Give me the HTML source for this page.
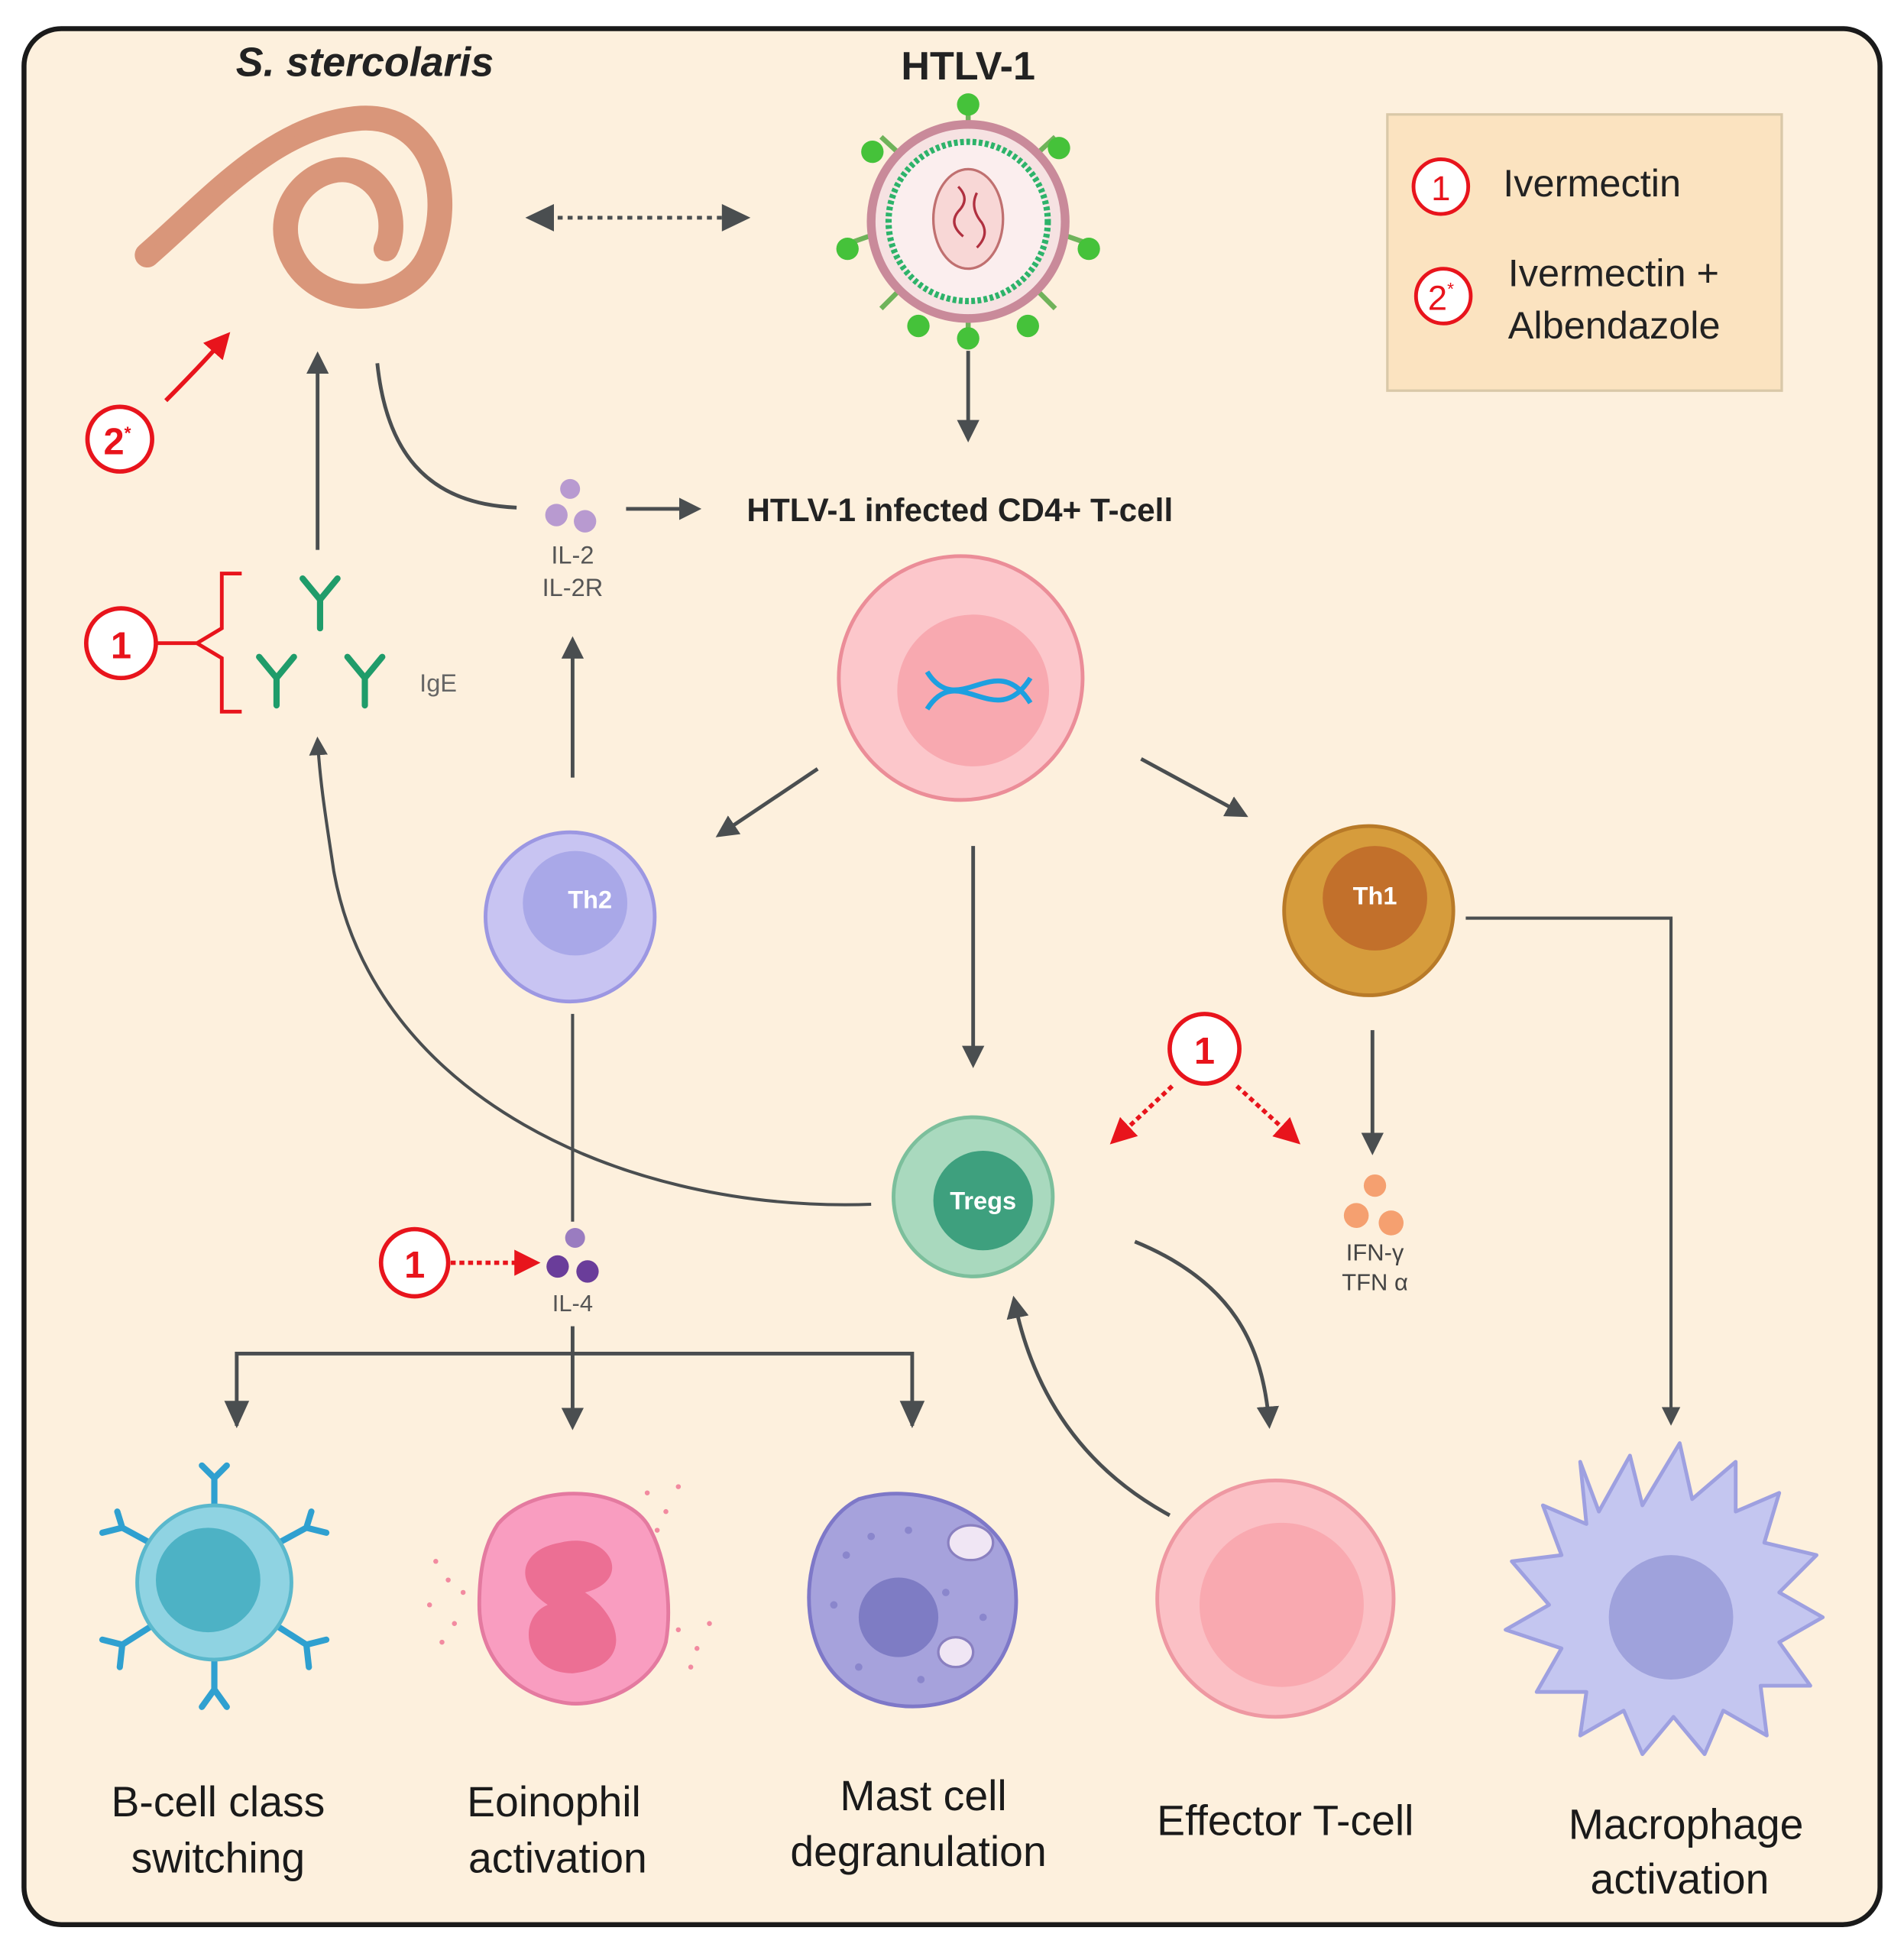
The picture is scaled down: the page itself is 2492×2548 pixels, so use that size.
<!DOCTYPE html>
<html><head><meta charset="utf-8"><style>
html,body{margin:0;padding:0;background:#fff}
svg{display:block}
text{font-family:"Liberation Sans",sans-serif}
</style></head><body>
<svg width="2492" height="2548" viewBox="0 0 1530 1565" xmlns="http://www.w3.org/2000/svg">
<defs>
<marker id="ah" viewBox="0 0 10 10" refX="8" refY="5" markerWidth="6" markerHeight="6" orient="auto"><path d="M0,0 L10,5 L0,10 z" fill="#4a4e50"/></marker>
<marker id="ar" viewBox="0 0 10 10" refX="8" refY="5" markerWidth="6" markerHeight="6" orient="auto"><path d="M0,0 L10,5 L0,10 z" fill="#e8141c"/></marker>
</defs>
<rect x="0" y="0" width="1530" height="1565" fill="#fff"/>
<rect x="19" y="23" width="1492" height="1524" rx="30" fill="#fdf0dd" stroke="#1a1a1a" stroke-width="4"/>

<!-- titles -->
<text x="293" y="61" font-size="33" font-weight="bold" font-style="italic" text-anchor="middle" fill="#222">S. stercolaris</text>
<text x="778" y="64" font-size="32" font-weight="bold" text-anchor="middle" fill="#222">HTLV-1</text>

<!-- worm -->
<path d="M118,205 C170,160 220,100 290,95 C350,92 365,160 345,205 C325,250 250,250 232,200 C218,160 260,125 290,140 C315,152 318,185 310,200" fill="none" stroke="#d9967a" stroke-width="20" stroke-linecap="round"/>
<path d="M118,205 C160,170 200,130 240,110" fill="none" stroke="#d9967a" stroke-width="4"/>

<!-- dashed double arrow -->
<line x1="440" y1="175" x2="585" y2="175" stroke="#4a4e50" stroke-width="3" stroke-dasharray="4,4"/>
<path d="M422,175 L445,164 L445,186 z" fill="#4a4e50"/>
<path d="M603,175 L580,164 L580,186 z" fill="#4a4e50"/>

<!-- virus -->
<g>
<g stroke="#6fb35a" stroke-width="4">
<line x1="778" y1="98" x2="778" y2="85"/><line x1="778" y1="258" x2="778" y2="271"/>
<line x1="835" y1="122" x2="848" y2="110"/><line x1="721" y1="122" x2="708" y2="110"/>
<line x1="835" y1="235" x2="848" y2="248"/><line x1="721" y1="235" x2="708" y2="248"/>
<line x1="858" y1="190" x2="875" y2="196"/><line x1="698" y1="190" x2="681" y2="196"/>
</g>
<g fill="#45c23a">
<circle cx="778" cy="84" r="9"/><circle cx="778" cy="272" r="9"/>
<circle cx="851" cy="119" r="9"/><circle cx="701" cy="122" r="9"/>
<circle cx="826" cy="262" r="9"/><circle cx="738" cy="262" r="9"/>
<circle cx="875" cy="200" r="9"/><circle cx="681" cy="200" r="9"/>
</g>
<circle cx="778" cy="178" r="78" fill="#f6e2e2" stroke="#c98a9a" stroke-width="7"/>
<circle cx="778" cy="178" r="64" fill="#fbeeee" stroke="#2db36a" stroke-width="5" stroke-dasharray="3,2"/>
<ellipse cx="778" cy="176" rx="28" ry="40" fill="#f8d7d6" stroke="#c07070" stroke-width="2"/>
<path d="M770,150 q10,10 0,20 q-8,10 4,20 M785,155 q-6,12 4,24 q6,10 -4,20" fill="none" stroke="#b03040" stroke-width="2"/>
</g>
<line x1="778" y1="282" x2="778" y2="352" stroke="#4a4e50" stroke-width="3" marker-end="url(#ah)"/>

<!-- legend -->
<rect x="1115" y="92" width="317" height="222" fill="#fbe3c0" stroke="#d9c8a8" stroke-width="2"/>
<circle cx="1158" cy="150" r="22" fill="#fff" stroke="#e8141c" stroke-width="3"/>
<text x="1158" y="161" font-size="28" text-anchor="middle" fill="#e8141c">1</text>
<text x="1208" y="158" font-size="31" fill="#222">Ivermectin</text>
<circle cx="1160" cy="238" r="22" fill="#fff" stroke="#e8141c" stroke-width="3"/>
<text x="1158" y="249" font-size="28" text-anchor="middle" fill="#e8141c">2<tspan font-size="14" dy="-12">*</tspan></text>
<text x="1212" y="230" font-size="31" fill="#222">Ivermectin +</text>
<text x="1212" y="272" font-size="31" fill="#222">Albendazole</text>

<!-- 2* circle left -->
<circle cx="96" cy="353" r="26" fill="#fff" stroke="#e8141c" stroke-width="3.5"/>
<text x="94" y="365" font-size="30" font-weight="bold" text-anchor="middle" fill="#e8141c">2<tspan font-size="14" dy="-12">*</tspan></text>
<path d="M133,322 Q160,295 182,270" fill="none" stroke="#e8141c" stroke-width="3.5" marker-end="url(#ar)"/>

<!-- up arrow to worm -->
<line x1="255" y1="442" x2="255" y2="286" stroke="#4a4e50" stroke-width="3" marker-end="url(#ah)"/>
<!-- worm curve to IL-2 -->
<path d="M303,292 C310,360 340,405 415,408" fill="none" stroke="#4a4e50" stroke-width="3"/>

<!-- IL-2 -->
<circle cx="458" cy="393" r="8" fill="#b89ad0"/>
<circle cx="447" cy="414" r="9" fill="#b89ad0"/>
<circle cx="470" cy="419" r="9" fill="#b89ad0"/>
<text x="460" y="453" font-size="20" text-anchor="middle" fill="#555">IL-2</text>
<text x="460" y="479" font-size="20" text-anchor="middle" fill="#555">IL-2R</text>
<line x1="503" y1="409" x2="560" y2="409" stroke="#4a4e50" stroke-width="3" marker-end="url(#ah)"/>
<text x="600" y="419" font-size="26" font-weight="bold" fill="#222">HTLV-1 infected CD4+ T-cell</text>

<!-- CD4 cell -->
<circle cx="772" cy="545" r="98" fill="#fcc7cb" stroke="#eb8d98" stroke-width="3"/>
<circle cx="782" cy="555" r="61" fill="#f8a9b0"/>
<path d="M745,540 C770,580 800,520 828,565 M745,570 C770,530 800,590 828,545" fill="none" stroke="#1da0e0" stroke-width="4"/>

<!-- bracket + 1 -->
<circle cx="97" cy="517" r="28" fill="#fff" stroke="#e8141c" stroke-width="3.5"/>
<text x="97" y="529" font-size="30" font-weight="bold" text-anchor="middle" fill="#e8141c">1</text>
<path d="M125,517 L158,517 M194,461 L178,461 L178,505 L158,517 L178,529 L178,572 L194,572" fill="none" stroke="#e8141c" stroke-width="3"/>

<!-- antibodies -->
<g stroke="#1f9c6a" stroke-width="5" fill="none" stroke-linecap="round">
<path d="M257,505 L257,482 L243,465 M257,482 L271,465"/>
<path d="M222,567 L222,545 L208,528 M222,545 L236,528"/>
<path d="M293,567 L293,545 L279,528 M293,545 L307,528"/>
</g>
<text x="352" y="556" font-size="20" text-anchor="middle" fill="#666">IgE</text>

<!-- Tregs curve to IgE -->
<path d="M700,968 C500,975 300,880 268,700 C262,660 257,630 255,595" fill="none" stroke="#4a4e50" stroke-width="2.5" marker-end="url(#ah)"/>
<!-- Th2 up -->
<line x1="460" y1="625" x2="460" y2="515" stroke="#4a4e50" stroke-width="3" marker-end="url(#ah)"/>

<line x1="657" y1="618" x2="578" y2="671" stroke="#4a4e50" stroke-width="3" marker-end="url(#ah)"/>
<line x1="917" y1="610" x2="1000" y2="655" stroke="#4a4e50" stroke-width="3" marker-end="url(#ah)"/>

<!-- Th2 -->
<circle cx="458" cy="737" r="68" fill="#c8c4f2" stroke="#9c97e2" stroke-width="3"/>
<circle cx="462" cy="726" r="42" fill="#a9a8e8"/>
<text x="474" y="730" font-size="20" font-weight="bold" text-anchor="middle" fill="#fff">Th2</text>
<line x1="460" y1="815" x2="460" y2="982" stroke="#4a4e50" stroke-width="2.5"/>

<!-- Th1 -->
<circle cx="1100" cy="732" r="68" fill="#d69c3c" stroke="#b87a28" stroke-width="3"/>
<circle cx="1105" cy="722" r="42" fill="#c2702b"/>
<text x="1105" y="727" font-size="20" font-weight="bold" text-anchor="middle" fill="#fff">Th1</text>
<path d="M1178,738 L1343,738 L1343,1143" fill="none" stroke="#4a4e50" stroke-width="2.5" marker-end="url(#ah)"/>

<line x1="782" y1="680" x2="782" y2="855" stroke="#4a4e50" stroke-width="3" marker-end="url(#ah)"/>

<!-- red 1 near tregs -->
<circle cx="968" cy="843" r="28" fill="#fff" stroke="#e8141c" stroke-width="3.5"/>
<text x="968" y="855" font-size="30" font-weight="bold" text-anchor="middle" fill="#e8141c">1</text>
<line x1="942" y1="873" x2="895" y2="917" stroke="#e8141c" stroke-width="3.5" stroke-dasharray="4,3" marker-end="url(#ar)"/>
<line x1="994" y1="873" x2="1042" y2="917" stroke="#e8141c" stroke-width="3.5" stroke-dasharray="4,3" marker-end="url(#ar)"/>

<line x1="1103" y1="828" x2="1103" y2="925" stroke="#4a4e50" stroke-width="3" marker-end="url(#ah)"/>
<circle cx="1105" cy="953" r="9" fill="#f5a070"/>
<circle cx="1090" cy="977" r="10" fill="#f5a070"/>
<circle cx="1118" cy="983" r="10" fill="#f5a070"/>
<text x="1105" y="1013" font-size="19" text-anchor="middle" fill="#444">IFN-γ</text>
<text x="1105" y="1037" font-size="19" text-anchor="middle" fill="#444">TFN α</text>

<!-- Tregs -->
<circle cx="782" cy="962" r="64" fill="#a9d9be" stroke="#7cbf9c" stroke-width="3"/>
<circle cx="790" cy="965" r="40" fill="#3ea07e"/>
<text x="790" y="972" font-size="20" font-weight="bold" text-anchor="middle" fill="#fff">Tregs</text>

<!-- IL-4 -->
<circle cx="333" cy="1015" r="27" fill="#fff" stroke="#e8141c" stroke-width="3.5"/>
<text x="333" y="1027" font-size="30" font-weight="bold" text-anchor="middle" fill="#e8141c">1</text>
<line x1="362" y1="1015" x2="430" y2="1015" stroke="#e8141c" stroke-width="3.5" stroke-dasharray="4,3" marker-end="url(#ar)"/>
<circle cx="462" cy="995" r="8" fill="#9a7cc0"/>
<circle cx="448" cy="1018" r="9" fill="#6a3d9a"/>
<circle cx="472" cy="1022" r="9" fill="#6a3d9a"/>
<text x="460" y="1054" font-size="19" text-anchor="middle" fill="#555">IL-4</text>
<line x1="460" y1="1066" x2="460" y2="1146" stroke="#4a4e50" stroke-width="3" marker-end="url(#ah)"/>
<path d="M190,1146 L190,1088 L733,1088 L733,1146" fill="none" stroke="#4a4e50" stroke-width="3"/>
<path d="M190,1148 L180,1126 L200,1126 z M733,1148 L723,1126 L743,1126 z" fill="#4a4e50"/>

<!-- Tregs <-> effector -->
<path d="M912,998 C990,1030 1015,1080 1020,1145" fill="none" stroke="#4a4e50" stroke-width="3" marker-end="url(#ah)"/>
<path d="M940,1218 C870,1180 830,1120 815,1045" fill="none" stroke="#4a4e50" stroke-width="3" marker-end="url(#ah)"/>

<!-- B-cell -->
<g stroke="#2fa0d0" stroke-width="5" fill="none" stroke-linecap="round">
<path d="M172,1210 L172,1188 L162,1178 M172,1188 L182,1178"/>
<path d="M172,1334 L172,1358 L162,1372 M172,1358 L182,1372"/>
<path d="M120,1240 L98,1228 L82,1232 M98,1228 L94,1215"/>
<path d="M224,1240 L246,1228 L262,1232 M246,1228 L250,1215"/>
<path d="M120,1308 L98,1322 L96,1340 M98,1322 L82,1318"/>
<path d="M224,1308 L246,1322 L248,1340 M246,1322 L262,1318"/>
</g>
<circle cx="172" cy="1272" r="62" fill="#8fd3e2" stroke="#5ab8cc" stroke-width="3"/>
<circle cx="167" cy="1270" r="42" fill="#4db2c5"/>

<!-- Eosinophil -->
<g fill="#f28aa0">
<circle cx="350" cy="1255" r="2"/><circle cx="360" cy="1270" r="2"/><circle cx="345" cy="1290" r="2"/><circle cx="365" cy="1305" r="2"/><circle cx="355" cy="1320" r="2"/><circle cx="372" cy="1280" r="2"/>
<circle cx="520" cy="1200" r="2"/><circle cx="535" cy="1215" r="2"/><circle cx="545" cy="1195" r="2"/><circle cx="528" cy="1230" r="2"/>
<circle cx="545" cy="1310" r="2"/><circle cx="560" cy="1325" r="2"/><circle cx="570" cy="1305" r="2"/><circle cx="555" cy="1340" r="2"/>
</g>
<path d="M400,1225 C430,1190 500,1195 520,1225 C535,1250 540,1290 535,1320 C525,1355 480,1375 450,1368 C410,1360 385,1330 385,1290 C385,1260 390,1240 400,1225 z" fill="#f99dc0" stroke="#e47aa0" stroke-width="3"/>
<path d="M450,1240 C490,1230 510,1270 470,1280 C500,1300 510,1340 460,1345 C420,1345 415,1300 440,1290 C410,1270 420,1245 450,1240 z" fill="#ec6f94"/>

<!-- Mast cell -->
<path d="M690,1205 C740,1190 800,1215 812,1255 C825,1300 810,1345 770,1365 C730,1380 680,1370 660,1330 C640,1290 650,1225 690,1205 z" fill="#a6a2dc" stroke="#7e78c8" stroke-width="3"/>
<circle cx="722" cy="1300" r="32" fill="#7e7cc4"/>
<ellipse cx="780" cy="1240" rx="18" ry="14" fill="#f0e6f4" stroke="#8a80c0" stroke-width="2"/>
<ellipse cx="768" cy="1328" rx="14" ry="12" fill="#f0e6f4" stroke="#8a80c0" stroke-width="2"/>
<g fill="#8a86cc"><circle cx="680" cy="1250" r="3"/><circle cx="700" cy="1235" r="3"/><circle cx="670" cy="1290" r="3"/><circle cx="690" cy="1340" r="3"/><circle cx="760" cy="1280" r="3"/><circle cx="740" cy="1350" r="3"/><circle cx="730" cy="1230" r="3"/><circle cx="790" cy="1300" r="3"/></g>

<!-- Effector -->
<circle cx="1025" cy="1285" r="95" fill="#fbc0c5" stroke="#ee98a2" stroke-width="3"/>
<circle cx="1030" cy="1290" r="66" fill="#f9a9b0"/>

<!-- Macrophage -->
<path d="M1270,1175 L1285,1215 L1310,1170 L1320,1210 L1350,1160 L1360,1205 L1395,1175 L1395,1215 L1430,1200 L1418,1240 L1460,1250 L1430,1280 L1465,1300 L1430,1320 L1455,1355 L1415,1355 L1420,1395 L1385,1375 L1370,1410 L1345,1380 L1320,1410 L1305,1375 L1270,1395 L1275,1360 L1235,1360 L1255,1325 L1210,1310 L1245,1290 L1215,1255 L1255,1250 L1240,1210 L1275,1225 z" fill="#c4c6f0" stroke="#9ea0e0" stroke-width="3" stroke-linejoin="round"/>
<circle cx="1343" cy="1300" r="50" fill="#9fa2dc"/>

<!-- labels -->
<g font-size="34" fill="#1a1a1a" text-anchor="middle">
<text x="175" y="1460">B-cell class</text><text x="175" y="1505">switching</text>
<text x="445" y="1460">Eoinophil</text><text x="448" y="1505">activation</text>
<text x="742" y="1455">Mast cell</text><text x="738" y="1500">degranulation</text>
<text x="1033" y="1475">Effector T-cell</text>
<text x="1355" y="1478">Macrophage</text><text x="1350" y="1522">activation</text>
</g>
</svg>
</body></html>
